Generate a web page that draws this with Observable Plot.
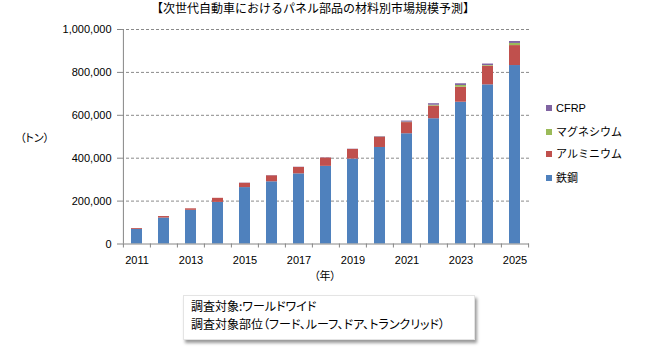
<!DOCTYPE html>
<html><head><meta charset="utf-8">
<script src="https://cdn.jsdelivr.net/npm/d3@7"></script>
<script src="https://cdn.jsdelivr.net/npm/@observablehq/plot@0.6"></script>
<style>
html,body{margin:0;padding:0;background:#fff;}
#wrap{position:relative;width:650px;height:350px;overflow:hidden;font-family:"Liberation Sans",Arial,"Noto Sans CJK JP",sans-serif;color:#000;}
.jp{font-family:"Noto Sans CJK JP",sans-serif;}
.palt{font-feature-settings:"palt" 1;}
#title{position:absolute;left:0;width:626px;top:0px;text-align:center;font-size:12px;line-height:16px;}
#ylab{position:absolute;left:20px;top:129px;font-size:11px;line-height:16px;white-space:nowrap;}
#xlab{position:absolute;left:300px;width:50px;text-align:center;top:267px;font-size:11px;line-height:16px;white-space:nowrap;}
#legend{position:absolute;left:546px;top:100px;font-size:11px;}
.li{position:absolute;left:0;white-space:nowrap;line-height:16px;height:16px;}
.sw{display:inline-block;width:6px;height:6px;margin-right:4px;vertical-align:middle;position:relative;top:-1px;}
#note{position:absolute;left:183px;top:295px;width:292px;height:45px;background:#fff;border:1px solid #e4e4e4;box-shadow:2px 3px 3px #9a9a9a;font-size:12px;line-height:18px;box-sizing:border-box;padding:1px 0 0 7px;white-space:nowrap;}
</style></head>
<body>
<div id="wrap">
<div id="chart"></div>
<div id="title" class="jp">【次世代自動車におけるパネル部品の材料別市場規模予測】</div>
<div id="ylab" class="jp palt">（トン）</div>
<div id="xlab" class="jp palt">（年）</div>
<div id="legend"></div>
<div id="note" class="jp palt">調査対象:ワールドワイド<br>調査対象部位（フード、ルーフ、ドア、トランクリッド）</div>
</div>
<script>
const years = [2011,2012,2013,2014,2015,2016,2017,2018,2019,2020,2021,2022,2023,2024,2025];
const steel     = [68000,121000,157000,194000,263000,290000,327000,362000,396000,450000,514000,584000,661000,742000,832000];
const aluminum  = [4000,7000,7000,19000,20000,28000,30000,39000,45000,48000,52000,59000,70000,87000,93000];
const magnesium = [0,0,0,0,0,0,0,0,0,1000,2000,4000,8000,3000,10000];
const cfrp      = [0,0,0,0,1000,1000,1000,1000,1000,2000,5000,7000,8000,7000,9000];
const seriesNames = ["鉄鋼","アルミニウム","マグネシウム","CFRP"];
const seriesColors = ["#4F81BD","#C0504D","#9BBB59","#8064A2"];
const legendOrder = ["CFRP","マグネシウム","アルミニウム","鉄鋼"];
const yTicks = [0,200000,400000,600000,800000,1000000];
const xLabelYears = [2011,2013,2015,2017,2019,2021,2023,2025];

const seriesValues = [steel, aluminum, magnesium, cfrp];
const table = [];
seriesNames.forEach((s, k) => years.forEach((yr, i) => table.push({year: yr, series: s, value: seriesValues[k][i]})));

const halfStep = 13.6;
const axisColor = "#868686";
const chart = Plot.plot({
  width: 650, height: 350,
  marginLeft: 121, marginRight: 121, marginTop: 29, marginBottom: 106.5,
  style: {fontFamily: "'Liberation Sans', Arial, sans-serif", fontSize: "11px", color: "#000", background: "transparent"},
  x: {type: "band", domain: years, paddingInner: 0.6, paddingOuter: 0.3, axis: null, label: null},
  y: {domain: [0, 1000000], axis: null, label: null},
  color: {domain: seriesNames, range: seriesColors},
  marks: [
    Plot.ruleY(yTicks.filter(d => d > 0), {stroke: "#8a8a8a", strokeDasharray: "3,2", strokeWidth: 1}),
    Plot.barY(table, {x: "year", y: "value", fill: "series", order: seriesNames}),
    Plot.ruleY([0], {stroke: axisColor}),
    Plot.ruleX([years[0]], {y1: 0, y2: 1000000, dx: -halfStep, stroke: axisColor}),
    Plot.axisY({ticks: yTicks, tickSize: 4, tickPadding: 6, tickFormat: d3.format(","), stroke: axisColor, fill: "#000", label: null}),
    Plot.ruleX(years, {x: d => d, y1: 0, y2: 0, dx: -halfStep, insetBottom: -4, stroke: axisColor}),
    Plot.ruleX([years[years.length-1]], {y1: 0, y2: 0, dx: halfStep, insetBottom: -4, stroke: axisColor}),
    Plot.axisX({ticks: xLabelYears, tickSize: 0, tickPadding: 12, tickFormat: d => String(d), fill: "#000", label: null})
  ]
});
document.getElementById("chart").appendChild(chart);

const legendTops = [0, 23, 45, 69];
const lg = document.getElementById("legend");
legendOrder.forEach((name, i) => {
  const d = document.createElement("div");
  d.className = "li" + (name === "CFRP" ? "" : " jp");
  d.style.top = legendTops[i] + "px";
  d.innerHTML = `<span class="sw" style="background:${seriesColors[seriesNames.indexOf(name)]}"></span>${name}`;
  lg.appendChild(d);
});
</script>
</body></html>
